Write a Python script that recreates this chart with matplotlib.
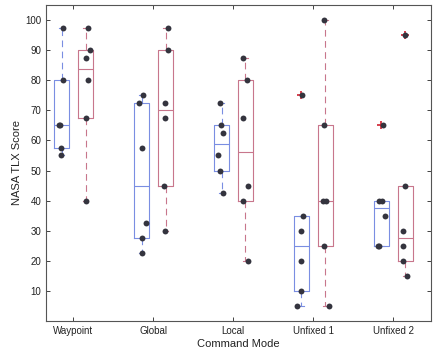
import numpy as np
import matplotlib
matplotlib.use("Agg")
import matplotlib.pyplot as plt

# scores per mode, two sessions each (blue = first, red = second)
modes = ["Waypoint", "Global", "Local", "Unfixed 1", "Unfixed 2"]

first = [
    [97.5, 80, 65, 65, 57.5, 55],
    [75, 72.5, 57.5, 32.5, 27.5, 22.5],
    [72.5, 65, 62.5, 55, 50, 42.5],
    [75, 35, 30, 20, 10, 5],
    [65, 40, 40, 35, 25, 25],
]
second = [
    [97.5, 90, 87.5, 80, 67.5, 40],
    [97.5, 90, 72.5, 67.5, 45, 30],
    [87.5, 80, 67.5, 45, 40, 20],
    [100, 65, 40, 40, 25, 5],
    [95, 45, 30, 25, 20, 15],
]

# horizontal scatter of the dots (in x units)
jit_first = [
    [0.02, 0.02, -0.03, -0.02, -0.01, -0.01],
    [0.02, -0.03, 0.01, 0.055, 0.01, 0.01],
    [-0.02, -0.01, 0.02, -0.045, -0.02, 0.02],
    [0.01, 0.025, 0.0, 0.0, 0.0, -0.05],
    [0.02, -0.03, 0.01, 0.045, -0.045, -0.03],
]
jit_second = [
    [0.025, 0.05, 0.01, 0.035, 0.0, 0.0],
    [0.025, 0.025, -0.01, -0.01, -0.02, -0.01],
    [-0.03, 0.02, -0.03, 0.03, -0.03, 0.03],
    [-0.02, -0.02, -0.03, 0.01, -0.02, 0.045],
    [-0.01, -0.01, -0.025, -0.025, -0.025, 0.025],
]


def stats(vals):
    v = np.sort(np.array(vals, dtype=float))
    q1, med, q3 = np.percentile(v, [25, 50, 75], method="hazen")
    iqr = q3 - q1
    lo = v[v >= q1 - 1.5 * iqr].min()
    hi = v[v <= q3 + 1.5 * iqr].max()
    fl = v[(v < lo) | (v > hi)]
    return dict(med=med, q1=q1, q3=q3, whislo=lo, whishi=hi, fliers=fl)


blue = "#7a8ee2"
red = "#c8768c"
dot = "#34343e"
txt = "#222222"

plt.rcParams["font.family"] = ["Liberation Sans", "DejaVu Sans"]

fig = plt.figure(figsize=(4.33, 3.53), dpi=100)
ax = fig.add_axes([46 / 433, 1 - 321 / 353, 385 / 433, 316 / 353])

x = np.arange(1, len(modes) + 1)
off = [-0.145, 0.155]

for k, (grp, jit, col) in enumerate([(first, jit_first, blue), (second, jit_second, red)]):
    st = [stats(g) for g in grp]
    pos = x + off[k]
    ax.bxp(st, positions=pos, widths=0.185, manage_ticks=False,
           boxprops=dict(color=col, lw=0.8),
           medianprops=dict(color=col, lw=0.8),
           whiskerprops=dict(color=col, lw=0.8, ls=(0, (6, 4))),
           capprops=dict(color=col, lw=0.8), capwidths=0.07,
           flierprops=dict(marker="+", markeredgecolor="#d02030", markersize=6, mew=1.2))
    for i, g in enumerate(grp):
        ax.scatter(pos[i] + np.array(jit[i]), g, s=18, color=dot, zorder=5, lw=0)

ax.set_xlim(0.66, 5.475)
ax.set_ylim(0, 105)
ax.set_xticks(x)
ax.set_xticklabels(modes)
ax.set_yticks(np.arange(10, 101, 10))
ax.tick_params(direction="in", top=True, right=True, labelsize=7, colors=txt,
               length=3, width=0.6)
for s in ax.spines.values():
    s.set_color("#555555")
    s.set_linewidth(0.8)

ax.set_xlabel("Command Mode", fontsize=8, color=txt, labelpad=2)
ax.set_ylabel("NASA TLX Score", fontsize=8, color=txt, labelpad=2)

fig.savefig("out.png", dpi=100)
